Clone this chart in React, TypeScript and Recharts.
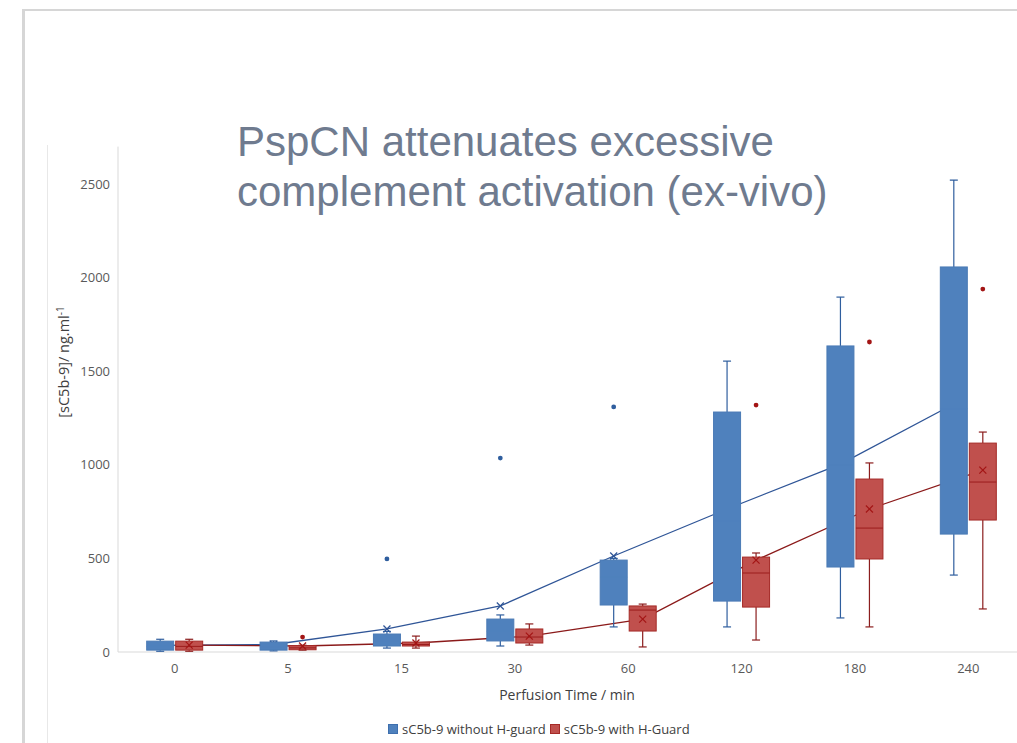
import React from "react";
import { LineChart, Line, XAxis, YAxis } from "recharts";

// perfusion time points (min)
const times = ["0", "5", "15", "30", "60", "120", "180", "240"];

// sC5b-9 without H-guard (blue)
const blueMin = [4, 6, 21, 32, 134, 134, 182, 411];
const blueQ1 = [10, 10, 32, 59, 251, 272, 454, 630];
const blueMedian = [30, 28, 60, 110, 400, 700, 1000, 1300];
const blueQ3 = [58, 53, 96, 176, 491, 1282, 1635, 2057];
const blueMax = [68, 59, 110, 198, 500, 1554, 1896, 2521];
const blueMean = [35, 40, 123, 246, 513, 764, 1004, 1325];
const blueOutliers = [[], [], [497], [1036], [1309], [], [], []];

// sC5b-9 with H-Guard (red)
const redMin = [4, 10, 21, 37, 27, 64, 134, 230];
const redQ1 = [10, 12, 32, 48, 112, 240, 497, 705];
const redMedian = [30, 22, 40, 80, 224, 422, 662, 908];
const redQ3 = [58, 34, 53, 123, 246, 507, 924, 1116];
const redMax = [68, 36, 85, 150, 256, 529, 1010, 1175];
const redMean = [37, 32, 48, 85, 176, 491, 764, 972];
const redOutliers = [[], [80], [], [], [], [1319], [1656], [1939]];

const yTicks = [0, 500, 1000, 1500, 2000, 2500];
const xTicks = times.map((_, i) => i);

const CHART_W = 1025;
const CHART_H = 743;
const Y_W = 118;
const BOX_W = 27;
const BOX_GAP = 2;
const band = (CHART_W - Y_W) / times.length;
const off = (BOX_W + BOX_GAP) / 2 / band;

const blueRows = blueMean.map((m, i) => ({ x: i - off, mean: m }));
const redRows = redMean.map((m, i) => ({ x: i + off, mean: m }));

type Stats = {
  min: number[];
  q1: number[];
  med: number[];
  q3: number[];
  max: number[];
  out: number[][];
  fill: string;
  stroke: string;
  whisker: string;
  median: string;
  dot: string;
};

const blueStats: Stats = {
  min: blueMin, q1: blueQ1, med: blueMedian, q3: blueQ3, max: blueMax, out: blueOutliers,
  fill: "#4f81bd", stroke: "#4a7ab5", whisker: "#2f5e9e", median: "#4f81bd", dot: "#2f5e9e",
};
const redStats: Stats = {
  min: redMin, q1: redQ1, med: redMedian, q3: redQ3, max: redMax, out: redOutliers,
  fill: "#c0504d", stroke: "#a52a27", whisker: "#8b1d1d", median: "#9b1c1c", dot: "#a31515",
};

// value -> pixel, taken from two of the points the library already placed
const scaleFromPoints = (points: any[]) => {
  const a = points[0];
  const b = points[points.length - 1];
  const va = Array.isArray(a.value) ? a.value[1] : a.value;
  const vb = Array.isArray(b.value) ? b.value[1] : b.value;
  const k = (b.y - a.y) / (vb - va);
  return (v: number) => a.y + (v - va) * k;
};

const cross = (cx: number, cy: number, color: string) => {
  const d = 3.5;
  return (
    <g>
      <line x1={cx - d} y1={cy - d} x2={cx + d} y2={cy + d} stroke={color} strokeWidth={1.2} />
      <line x1={cx - d} y1={cy + d} x2={cx + d} y2={cy - d} stroke={color} strokeWidth={1.2} />
    </g>
  );
};

const box = (s: Stats, i: number, cx: number, py: (v: number) => number) => {
  const cap = 4;
  const x = cx - BOX_W / 2;
  return (
    <g>
      <line x1={cx} x2={cx} y1={py(s.max[i])} y2={py(s.q3[i])} stroke={s.whisker} strokeWidth={1.2} />
      <line x1={cx} x2={cx} y1={py(s.q1[i])} y2={py(s.min[i])} stroke={s.whisker} strokeWidth={1.2} />
      <line x1={cx - cap} x2={cx + cap} y1={py(s.max[i])} y2={py(s.max[i])} stroke={s.whisker} strokeWidth={1.2} />
      <line x1={cx - cap} x2={cx + cap} y1={py(s.min[i])} y2={py(s.min[i])} stroke={s.whisker} strokeWidth={1.2} />
      <rect
        x={x}
        y={py(s.q3[i])}
        width={BOX_W}
        height={Math.max(py(s.q1[i]) - py(s.q3[i]), 1)}
        fill={s.fill}
        stroke={s.stroke}
        strokeWidth={1}
      />
      <line x1={x} x2={x + BOX_W} y1={py(s.med[i])} y2={py(s.med[i])} stroke={s.median} strokeWidth={1} />
      {s.out[i].map((o, k) => (
        <circle key={k} cx={cx} cy={py(o)} r={2.4} fill={s.dot} />
      ))}
    </g>
  );
};

// blue: mean marker first, box on top of it (the blue mean line runs behind the boxes)
const blueDot = (props: any) => {
  const { cx, cy, index, points } = props;
  if (cx == null || cy == null || !points) return <g key={index} />;
  const py = scaleFromPoints(points);
  return (
    <g key={index}>
      {cross(cx, cy, "#2f5597")}
      {box(blueStats, index, cx, py)}
    </g>
  );
};

// red boxes come from a stroke-less helper line, the red mean line is drawn over them
const redBoxDot = (props: any) => {
  const { cx, cy, index, points } = props;
  if (cx == null || cy == null || !points) return <g key={index} />;
  const py = scaleFromPoints(points);
  return <g key={index}>{box(redStats, index, cx, py)}</g>;
};

const redCross = (props: any) => {
  const { cx, cy, index } = props;
  if (cx == null || cy == null) return <g key={index} />;
  return <g key={index}>{cross(cx, cy, "#a31515")}</g>;
};

const font = "'Open Sans', 'Noto Sans', sans-serif";

export default function App() {
  return (
    <div style={{ position: "absolute", left: 0, top: 0, width: 1017, height: 743, overflow: "hidden", background: "#fff", fontFamily: font }}>
      {/* slide frame */}
      <div style={{ position: "absolute", left: 22, top: 9, right: 0, height: 2, background: "#d6d6d6" }} />
      <div style={{ position: "absolute", left: 22, top: 9, width: 2.5, bottom: 0, background: "#d6d6d6" }} />
      <div style={{ position: "absolute", left: 47, top: 145, width: 1, bottom: 0, background: "#e8e8e8" }} />

      <div style={{ position: "absolute", left: 0, top: 0, width: 1017, height: 743, overflow: "hidden" }}>
        <LineChart
          width={CHART_W}
          height={CHART_H}
          margin={{ top: 146.6, right: 0, bottom: 0, left: 0 }}
        >
          <XAxis
            type="number"
            dataKey="x"
            domain={[-0.5, 7.5]}
            allowDataOverflow
            ticks={xTicks}
            interval={0}
            tickFormatter={(i: number) => times[i]}
            height={CHART_H - 652}
            tickLine={false}
            axisLine={{ stroke: "#d9d9d9" }}
            tick={{ fontSize: 13, fill: "#595959", fontFamily: font }}
            tickMargin={6}
          />
          <YAxis
            width={Y_W}
            domain={[0, 2700]}
            allowDataOverflow
            ticks={yTicks}
            tickLine={false}
            axisLine={{ stroke: "#d9d9d9" }}
            tick={{ fontSize: 13, fill: "#595959", fontFamily: font }}
          />
          <Line
            data={blueRows}
            dataKey="mean"
            name="sC5b-9 without H-guard"
            stroke="#2f5597"
            strokeWidth={1.3}
            dot={blueDot}
            activeDot={false}
            isAnimationActive={false}
          />
          <Line
            data={redRows}
            dataKey="mean"
            stroke="none"
            dot={redBoxDot}
            activeDot={false}
            legendType="none"
            isAnimationActive={false}
          />
          <Line
            data={redRows}
            dataKey="mean"
            name="sC5b-9 with H-Guard"
            stroke="#8b1a1a"
            strokeWidth={1.3}
            dot={redCross}
            activeDot={false}
            isAnimationActive={false}
          />
        </LineChart>
      </div>

      {/* y axis title */}
      <div
        style={{
          position: "absolute",
          left: 63,
          top: 362,
          transform: "translate(-50%, -50%) rotate(-90deg)",
          whiteSpace: "nowrap",
          fontSize: 14.5,
          color: "#404040",
        }}
      >
        [sC5b-9]/ ng.ml<sup style={{ fontSize: 10 }}>-1</sup>
      </div>

      {/* x axis title */}
      <div
        style={{
          position: "absolute",
          left: 567,
          top: 694,
          transform: "translate(-50%, -50%)",
          whiteSpace: "nowrap",
          fontSize: 14,
          color: "#404040",
        }}
      >
        Perfusion Time / min
      </div>

      {/* legend */}
      <div style={{ position: "absolute", left: 388, top: 720, display: "flex", alignItems: "center", fontSize: 13, color: "#404040", whiteSpace: "nowrap" }}>
        <span style={{ width: 8, height: 8, background: "#4f81bd", border: "1px solid #3e6fae", marginRight: 4, display: "inline-block" }} />
        <span style={{ marginRight: 4 }}>sC5b-9 without H-guard</span>
        <span style={{ width: 8, height: 8, background: "#c0504d", border: "1px solid #a52a27", marginRight: 4, display: "inline-block" }} />
        <span>sC5b-9 with H-Guard</span>
      </div>

      {/* title */}
      <div
        style={{
          position: "absolute",
          left: 237,
          top: 117,
          fontFamily: "'Liberation Sans', Arial, sans-serif",
          fontSize: 42,
          lineHeight: "50px",
          color: "#6f7b8f",
          whiteSpace: "nowrap",
        }}
      >
        PspCN attenuates excessive
        <br />
        complement activation (ex-vivo)
      </div>
    </div>
  );
}
